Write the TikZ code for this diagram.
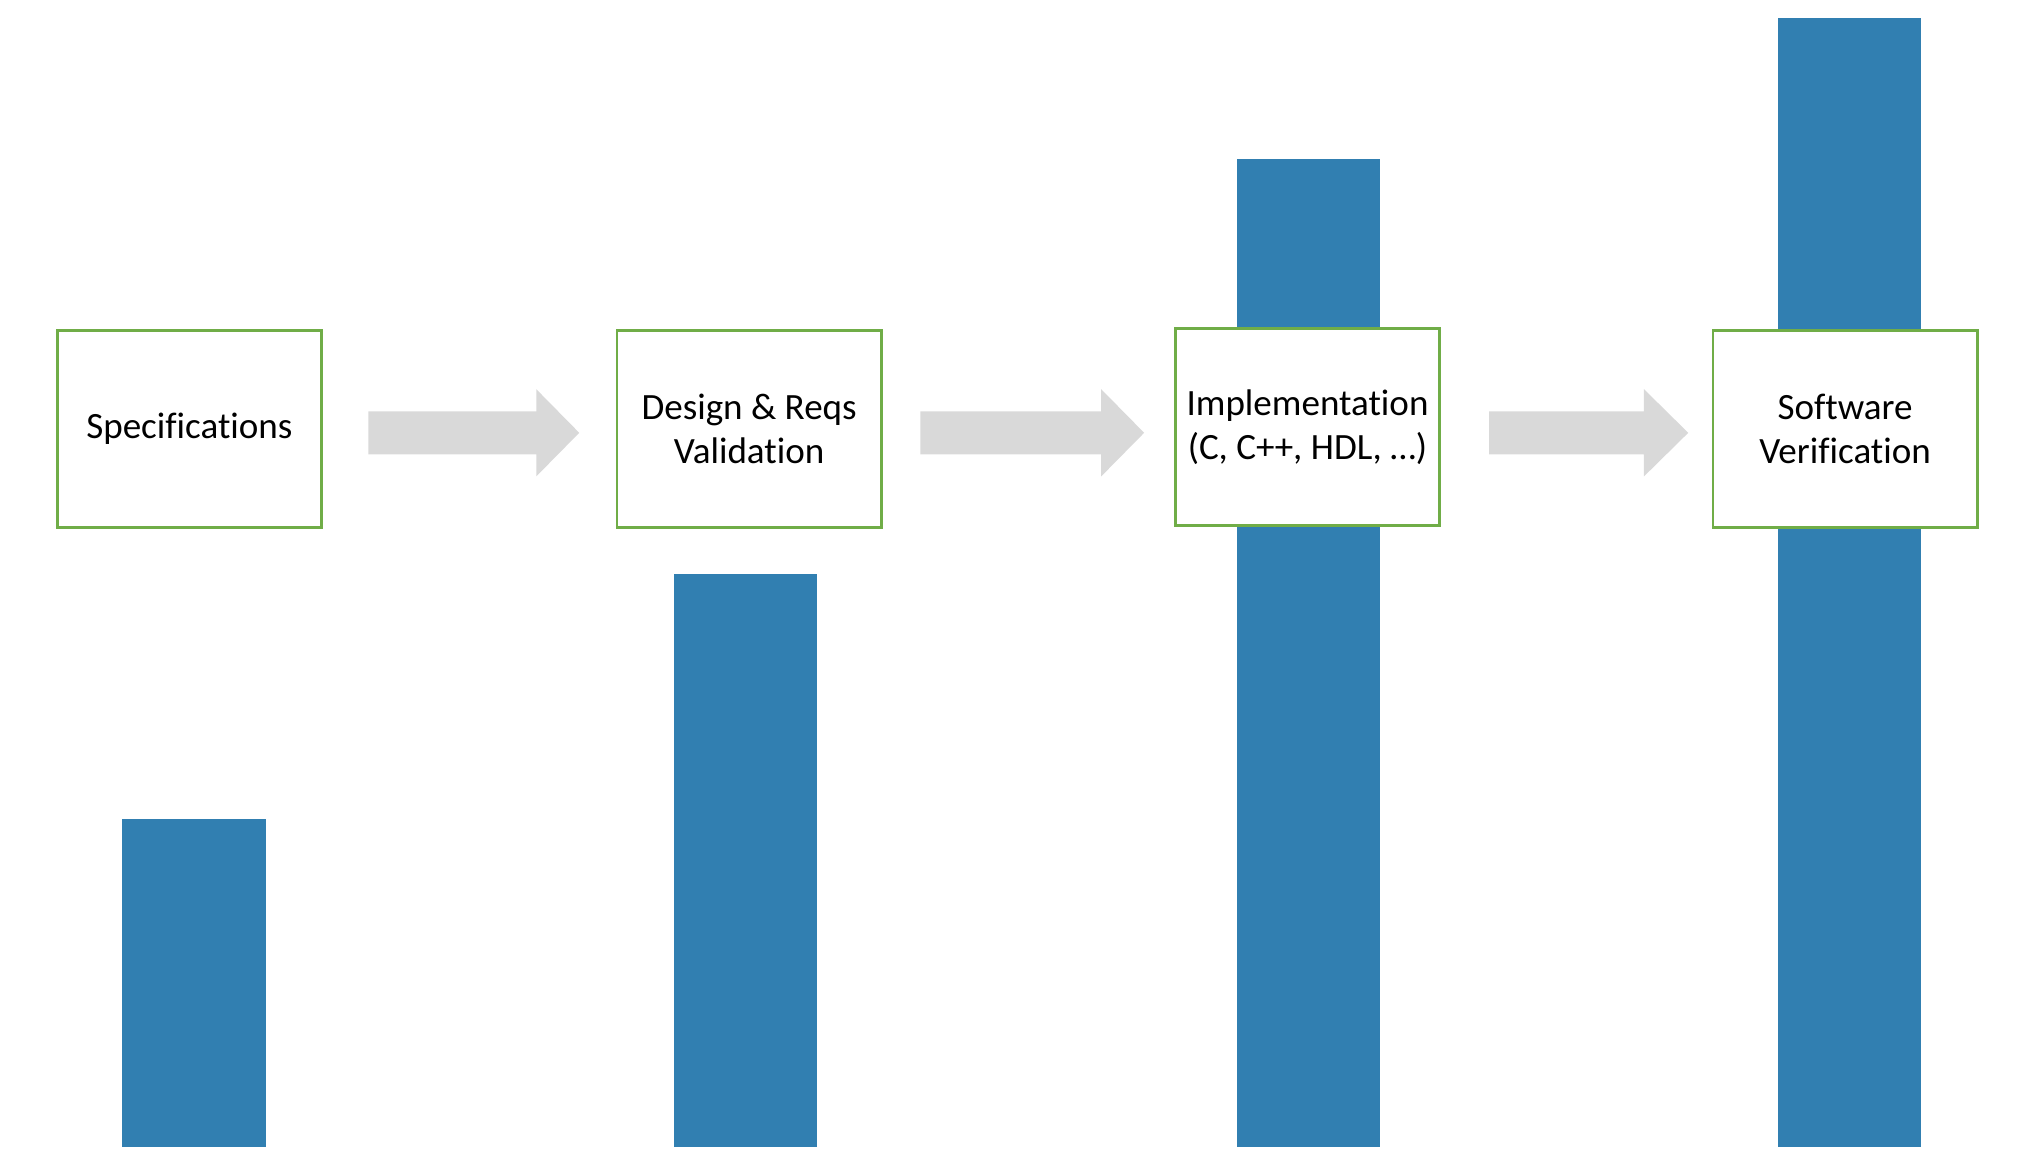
\documentclass[tikz,border=0pt]{standalone}
\usepackage{fontspec}
\setmainfont{Carlito}[Ligatures={NoCommon}]
\definecolor{barblue}{RGB}{49,127,177}
\definecolor{boxgreen}{RGB}{112,173,71}
\definecolor{arrgray}{RGB}{217,217,217}
\begin{document}
\begin{tikzpicture}[x=0.01cm,y=-0.01cm,
  stepbox/.style={draw=boxgreen,line width=0.6pt,fill=white,minimum width=203*0.01cm,minimum height=151*0.01cm,inner sep=0pt,align=center,font=\fontsize{8.1pt}{9.7pt}\selectfont},
  bar/.style={fill=barblue,draw=none},
  blockarrow/.style={fill=arrgray,draw=none}]
\useasboundingbox (0,0) rectangle (1568,896.5);
% bars
\fill[bar] (94,629) rectangle (204,881);
\fill[bar] (518,441) rectangle (628,881);
\fill[bar] (950,122) rectangle (1060,881);
\fill[bar] (1366,14) rectangle (1476,881);
% boxes
\node[stepbox] (b1) at (145.5,329.5) {Specifications};
\node[stepbox] (b2) at (575.5,329.5) {Design \& Reqs\\Validation};
\node[stepbox] (b3) at (1004.5,328) {Implementation\\(C, C++, HDL, …)};
\node[stepbox] (b4) at (1417.5,329.5) {Software\\Verification};
% block arrows
\newcommand{\blockarr}[3]{% start x, head start x, tip x
  \fill[blockarrow] (#1,316) -- (#2,316) -- (#2,299) -- (#3,332.5) -- (#2,366) -- (#2,349) -- (#1,349) -- cycle;}
\blockarr{283}{412}{445}
\blockarr{707}{846}{879}
\blockarr{1144}{1263}{1297}
\end{tikzpicture}
\end{document}
